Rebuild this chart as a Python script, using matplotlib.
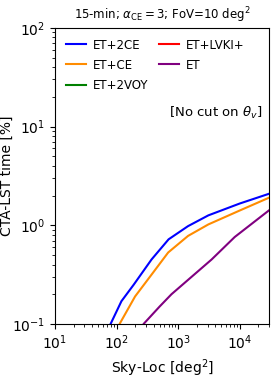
import numpy as np
import matplotlib.pyplot as plt

# sky-localisation area [deg^2] and CTA-LST time [%]
sky_2ce = [50, 80, 120, 190, 370, 700, 1450, 3100, 10000, 31000]
time_2ce = [0.05, 0.1, 0.17, 0.25, 0.45, 0.72, 0.98, 1.26, 1.66, 2.1]

sky_ce = [70, 112, 200, 390, 690, 1450, 3100, 10000, 31000]
time_ce = [0.05, 0.1, 0.19, 0.33, 0.53, 0.78, 1.02, 1.41, 1.92]

sky_et = [180, 275, 500, 780, 3500, 8300, 31000]
time_et = [0.06, 0.1, 0.15, 0.2, 0.45, 0.76, 1.44]

sky_2voy = [10, 31000]
time_2voy = [0.01, 0.03]
sky_lvki = [10, 31000]
time_lvki = [0.01, 0.02]

fig = plt.figure(figsize=(2.74, 3.82), dpi=100)
ax = fig.add_axes([0.2007, 0.152, 0.7813, 0.775])

ax.plot(sky_2ce, time_2ce, color='blue', lw=1.5, label='ET+2CE')
ax.plot(sky_ce, time_ce, color='darkorange', lw=1.5, label='ET+CE')
ax.plot(sky_2voy, time_2voy, color='green', lw=1.5, label='ET+2VOY')
ax.plot(sky_lvki, time_lvki, color='red', lw=1.5, label='ET+LVKI+')
ax.plot(sky_et, time_et, color='purple', lw=1.5, label='ET')

ax.set_xscale('log')
ax.set_yscale('log')
ax.set_xlim(10, 3e4)
ax.set_ylim(0.1, 100)
ax.tick_params(labelsize=10)

ax.set_xlabel('Sky-Loc [deg$^2$]', fontsize=10)
ax.set_ylabel('CTA-LST time [%]', fontsize=10)
ax.yaxis.set_label_coords(-0.19, 0.5)
ax.set_title(r'15-min; $\alpha_{\rm CE}=3$; FoV=10 deg$^2$', fontsize=8.5)
ax.text(0.97, 0.713, r'[No cut on $\theta_v$]', transform=ax.transAxes,
        ha='right', va='center', fontsize=9.5)
ax.legend(ncol=2, loc='upper left', frameon=False, fontsize=8.5,
          handlelength=1.7, handletextpad=0.6, columnspacing=0.9,
          labelspacing=0.6, bbox_to_anchor=(0.0, 1.0))

fig.savefig('out.png', dpi=100)
